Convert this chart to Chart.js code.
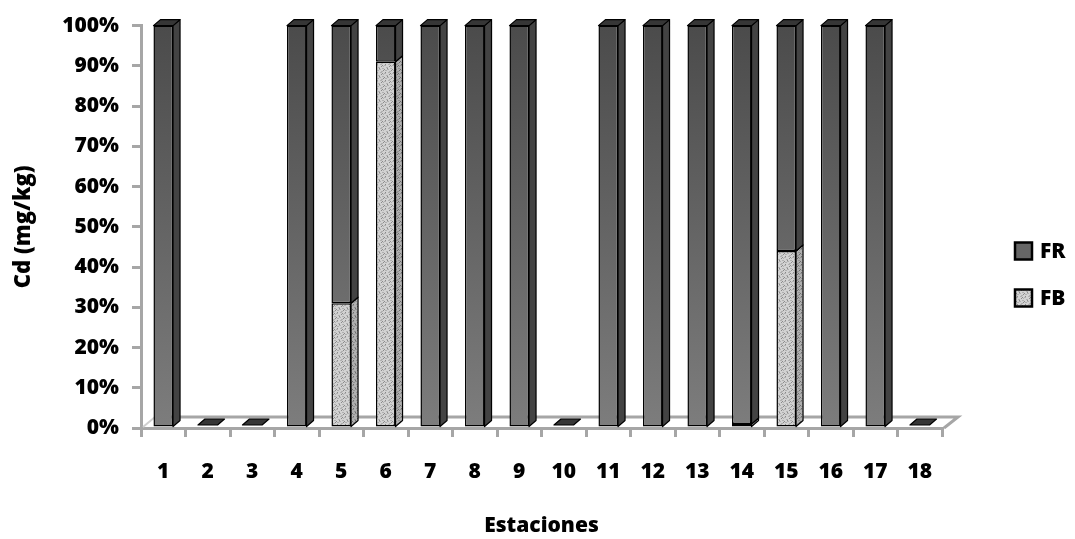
<!DOCTYPE html>
<html>
<head>
<meta charset="utf-8">
<script src="https://cdn.jsdelivr.net/npm/chart.js@4.4.0/dist/chart.umd.min.js"></script>
<style>
  html, body { margin: 0; padding: 0; background: #fff; }
  #wrap { width: 1075px; height: 539px; }
</style>
</head>
<body>
<div id="wrap"><canvas id="cdChart" width="1075" height="539"></canvas></div>
<script>
// --- data ---
const stations = ['1', '2', '3', '4', '5', '6', '7', '8', '9', '10', '11', '12', '13', '14', '15', '16', '17', '18'];
const fbValues = [0, 0, 0, 0, 31, 91, 0, 0, 0, 0, 0, 0, 0, 1, 44, 0, 0, 0];
const frValues = [100, 0, 0, 100, 69, 9, 100, 100, 100, 0, 100, 100, 100, 99, 56, 100, 100, 0];
const seriesNames = ['FB', 'FR'];
const yTickValues = [0, 10, 20, 30, 40, 50, 60, 70, 80, 90, 100];

const FONT = "'Open Sans', 'DejaVu Sans', sans-serif";
const AXIS_GRAY = '#a6a6a6';
const DX = 7, DY = 6;

const canvas = document.getElementById('cdChart');
const mainCtx = canvas.getContext('2d');

// speckled fill for the FB series
function speckle(base, dark, mid) {
    const c = document.createElement('canvas');
    c.width = 8; c.height = 8;
    const g = c.getContext('2d');
    g.fillStyle = base;
    g.fillRect(0, 0, 8, 8);
    g.fillStyle = mid;
    [[0, 1], [4, 0], [2, 3], [6, 4], [1, 6], [5, 7], [3, 5], [7, 2]].forEach(([x, y]) => g.fillRect(x, y, 2, 1));
    g.fillStyle = dark;
    [[1, 0], [5, 2], [3, 4], [7, 6], [0, 5], [6, 1]].forEach(([x, y]) => g.fillRect(x, y, 1, 1));
    return mainCtx.createPattern(c, 'repeat');
}
const fbFront = speckle('#d2d2d2', '#8a8a8a', '#b0b0b0');
const fbSide = speckle('#b0b0b0', '#6c6c6c', '#929292');

function frFill(context) {
    const { ctx, chartArea } = context.chart;
    if (!chartArea) return '#666666';
    const g = ctx.createLinearGradient(0, chartArea.top, 0, chartArea.bottom);
    g.addColorStop(0, '#4b4b4b');
    g.addColorStop(1, '#7d7d7d');
    return g;
}
const sideFills = [fbSide, '#434343'];

// floor + 3D faces of the bars
const bar3d = {
    id: 'bar3d',
    beforeDatasetsDraw(chart) {
        const { ctx, chartArea: a } = chart;
        ctx.save();
        ctx.lineWidth = 3;
        ctx.strokeStyle = AXIS_GRAY;
        ctx.beginPath();
        ctx.moveTo(a.left + 14, a.bottom - 11);
        ctx.lineTo(a.right + 16, a.bottom - 11);
        ctx.lineTo(a.right + 2, a.bottom);
        ctx.stroke();
        ctx.strokeStyle = '#cfcfcf';
        ctx.lineWidth = 2;
        ctx.beginPath();
        ctx.moveTo(a.left + 2, a.bottom - 1);
        ctx.lineTo(a.left + 14, a.bottom - 11);
        ctx.stroke();
        ctx.restore();
    },
    afterDatasetsDraw(chart) {
        const ctx = chart.ctx;
        const metas = chart.data.datasets.map((d, i) => chart.getDatasetMeta(i));
        ctx.save();
        ctx.strokeStyle = '#000';
        ctx.lineWidth = 1.2;
        ctx.lineJoin = 'round';
        stations.forEach((s, i) => {
            let topP = null;
            metas.forEach((meta, di) => {
                const p = meta.data[i].getProps(['x', 'y', 'base', 'width'], true);
                if (chart.data.datasets[di].data[i] > 0) {
                    const r = p.x + p.width / 2;
                    const top = Math.min(p.y, p.base), bot = Math.max(p.y, p.base);
                    ctx.beginPath();
                    ctx.moveTo(r, top);
                    ctx.lineTo(r + DX, top - DY);
                    ctx.lineTo(r + DX, bot - DY);
                    ctx.lineTo(r, bot);
                    ctx.closePath();
                    ctx.fillStyle = sideFills[di];
                    ctx.fill();
                    ctx.stroke();
                    topP = { x: p.x, y: top, width: p.width };
                }
            });
            if (!topP) {
                const p = metas[0].data[i].getProps(['x', 'base', 'width'], true);
                topP = { x: p.x, y: p.base - 3, width: p.width };
            }
            const l = topP.x - topP.width / 2, r = topP.x + topP.width / 2;
            ctx.beginPath();
            ctx.moveTo(l, topP.y);
            ctx.lineTo(l + DX, topP.y - DY);
            ctx.lineTo(r + DX, topP.y - DY);
            ctx.lineTo(r, topP.y);
            ctx.closePath();
            ctx.fillStyle = '#363636';
            ctx.fill();
            ctx.stroke();
        });
        ctx.restore();
    },
    afterDraw(chart) {
        // legend on the right, FR above FB
        const { ctx, chartArea: a } = chart;
        const items = [
            { text: seriesNames[1], fill: '#666666', y: 251 },
            { text: seriesNames[0], fill: fbFront, y: 298 }
        ];
        ctx.save();
        ctx.font = `800 21px ${FONT}`;
        ctx.textBaseline = 'middle';
        items.forEach(it => {
            const bx = a.right + 73;
            ctx.fillStyle = it.fill;
            ctx.fillRect(bx, it.y - 8.5, 17, 17);
            ctx.lineWidth = 2.5;
            ctx.strokeStyle = '#000';
            ctx.strokeRect(bx, it.y - 8.5, 17, 17);
            ctx.fillStyle = '#000';
            ctx.fillText(it.text, bx + 25, it.y + 1);
        });
        ctx.restore();
    }
};

const tickFont = { family: FONT, size: 21, weight: 800 };

new Chart(mainCtx, {
    type: 'bar',
    data: {
        labels: stations,
        datasets: [
            {
                label: seriesNames[0],
                data: fbValues,
                backgroundColor: fbFront,
                borderColor: '#000',
                borderWidth: 1.5,
                borderSkipped: false
            },
            {
                label: seriesNames[1],
                data: frValues,
                backgroundColor: frFill,
                borderColor: '#000',
                borderWidth: 1.5,
                borderSkipped: false
            }
        ]
    },
    options: {
        responsive: false,
        animation: false,
        layout: { padding: { top: 17, right: 133, left: 0, bottom: 0 } },
        datasets: { bar: { categoryPercentage: 1, barPercentage: 0.44 } },
        plugins: {
            legend: { display: false },
            tooltip: { enabled: false }
        },
        scales: {
            x: {
                stacked: true,
                afterFit: s => { s.height = 111; },
                grid: { drawOnChartArea: false, drawTicks: true, tickLength: 9, color: AXIS_GRAY, lineWidth: 3 },
                border: { color: AXIS_GRAY, width: 3 },
                ticks: { color: '#000', font: tickFont, padding: 22, maxRotation: 0 },
                title: { display: true, text: 'Estaciones', color: '#000', font: tickFont, padding: { top: 0, bottom: 0 } }
            },
            y: {
                stacked: true,
                min: 0,
                max: 100,
                afterFit: s => { s.width = 141; },
                afterBuildTicks: s => { s.ticks = yTickValues.map(v => ({ value: v })); },
                grid: { drawOnChartArea: false, drawTicks: true, tickLength: 9, color: AXIS_GRAY, lineWidth: 3 },
                border: { color: AXIS_GRAY, width: 3 },
                ticks: { color: '#000', font: tickFont, padding: 13, callback: v => v + '%' },
                title: { display: true, text: 'Cd (mg/kg)', color: '#000', font: { family: FONT, size: 22, weight: 800 }, padding: { top: 11, bottom: 0 } }
            }
        }
    },
    plugins: [bar3d]
});
</script>
</body>
</html>
